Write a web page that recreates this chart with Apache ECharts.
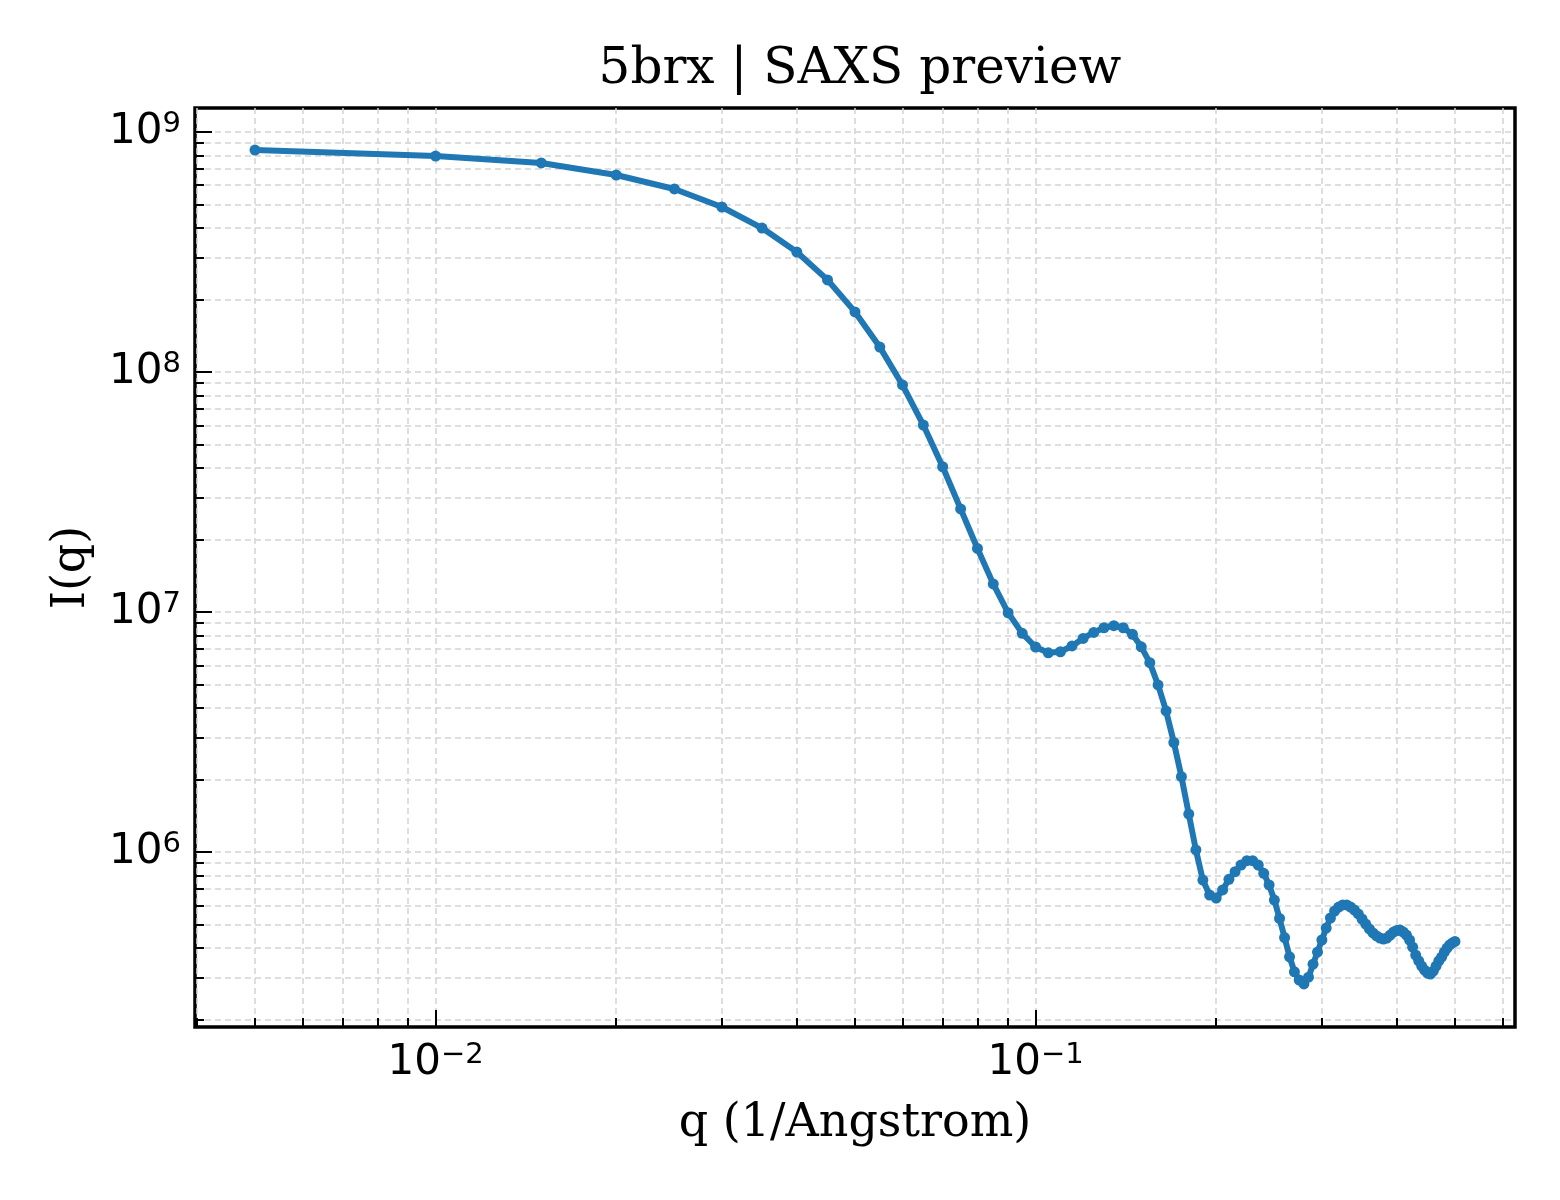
<!doctype html>
<html lang="en">
<head>
    <meta charset="UTF-8">
    <title>5brx | SAXS preview</title>
    <style>
        body { margin: 0; padding: 0; background: #fff; }
        #main { width: 1560px; height: 1200px; }
    </style>
</head>
<body>
    <div id="main"></div>

    <script src="https://cdn.jsdelivr.net/npm/echarts@6.0.0/dist/echarts.min.js"></script>
    <script>
        // scattering vector q (1/Angstrom)
        var qValues = [
            0.005, 0.010, 0.015, 0.020, 0.025, 0.030, 0.035, 0.040, 0.045, 0.050,
            0.055, 0.060, 0.065, 0.070, 0.075, 0.080, 0.085, 0.090, 0.095, 0.100,
            0.105, 0.110, 0.115, 0.120, 0.125, 0.130, 0.135, 0.140, 0.145, 0.150,
            0.155, 0.160, 0.165, 0.170, 0.175, 0.180, 0.185, 0.190, 0.195, 0.200,
            0.205, 0.210, 0.215, 0.220, 0.225, 0.230, 0.235, 0.240, 0.245, 0.250,
            0.255, 0.260, 0.265, 0.270, 0.275, 0.280, 0.285, 0.290, 0.295, 0.300,
            0.305, 0.310, 0.315, 0.320, 0.325, 0.330, 0.335, 0.340, 0.345, 0.350,
            0.355, 0.360, 0.365, 0.370, 0.375, 0.380, 0.385, 0.390, 0.395, 0.400,
            0.405, 0.410, 0.415, 0.420, 0.425, 0.430, 0.435, 0.440, 0.445, 0.450,
            0.455, 0.460, 0.465, 0.470, 0.475, 0.480, 0.485, 0.490, 0.495, 0.500
        ];

        // intensity I(q)
        var intensity = [
            8.41e8, 7.94e8, 7.43e8, 6.62e8, 5.79e8, 4.87e8, 3.98e8, 3.16e8, 2.42e8, 1.78e8,
            1.27e8, 8.83e7, 6.01e7, 4.03e7, 2.69e7, 1.84e7, 1.31e7, 9.93e6, 8.15e6, 7.15e6,
            6.76e6, 6.83e6, 7.22e6, 7.76e6, 8.22e6, 8.60e6, 8.77e6, 8.60e6, 8.08e6, 7.16e6,
            6.15e6, 4.97e6, 3.87e6, 2.86e6, 2.06e6, 1.44e6, 1.02e6, 7.64e5, 6.62e5, 6.43e5,
            6.95e5, 7.70e5, 8.28e5, 8.83e5, 9.20e5, 9.20e5, 8.83e5, 8.15e5, 7.29e5, 6.31e5,
            5.29e5, 4.40e5, 3.66e5, 3.17e5, 2.93e5, 2.82e5, 3.01e5, 3.41e5, 3.83e5, 4.30e5,
            4.82e5, 5.31e5, 5.68e5, 5.90e5, 6.02e5, 6.02e5, 5.90e5, 5.73e5, 5.52e5, 5.26e5,
            5.01e5, 4.78e5, 4.60e5, 4.47e5, 4.38e5, 4.34e5, 4.38e5, 4.51e5, 4.64e5, 4.71e5,
            4.73e5, 4.64e5, 4.51e5, 4.30e5, 4.02e5, 3.72e5, 3.52e5, 3.35e5, 3.22e5, 3.13e5,
            3.10e5, 3.19e5, 3.35e5, 3.52e5, 3.65e5, 3.83e5, 3.98e5, 4.10e5, 4.18e5, 4.24e5
        ];

        // axis ranges (decades) and tick positions, as exponents of 10
        var xRange = [-2.401, -0.201];
        var yRange = [5.271, 9.1];
        var xMajor = [-2, -1];
        var yMajor = [6, 7, 8, 9];
        var xMinorMant = [4, 5, 6, 7, 8, 9, 20, 30, 40, 50, 60, 70, 80, 90, 200, 300, 400, 500, 600];
        var yMinorMant = [2e5, 3e5, 4e5, 5e5, 6e5, 7e5, 8e5, 9e5, 2e6, 3e6, 4e6, 5e6, 6e6, 7e6, 8e6, 9e6,
                          2e7, 3e7, 4e7, 5e7, 6e7, 7e7, 8e7, 9e7, 2e8, 3e8, 4e8, 5e8, 6e8, 7e8, 8e8, 9e8];

        var xMinor = xMinorMant.map(function (v) { return Math.log10(v / 1000); });
        var yMinor = yMinorMant.map(function (v) { return Math.log10(v); });

        var points = qValues.map(function (q, i) { return [q, intensity[i]]; });

        var gridStyle = { color: '#d4d4d4', width: 1.5, type: [6, 4] };
        var tickFont = 'DejaVu Sans';
        var serif = 'DejaVu Serif';

        function powLabel(v) {
            var e = Math.round(v);
            var s = e < 0 ? '\u2212' + (-e) : String(e);
            return '{b|10}{s|' + s + '}';
        }
        var powRich = {
            b: { fontFamily: tickFont, fontSize: 42, lineHeight: 44, color: '#000' },
            s: { fontFamily: tickFont, fontSize: 29, lineHeight: 24, verticalAlign: 'top', color: '#000' }
        };

        function helperX(values, len, labels, name) {
            return {
                type: 'value', gridIndex: 0, position: 'bottom',
                min: xRange[0], max: xRange[1],
                axisLine: { show: false },
                axisTick: { show: true, inside: true, length: len, customValues: values,
                            lineStyle: { color: '#000', width: 2 } },
                axisLabel: { show: labels, customValues: values, margin: 14,
                             formatter: powLabel, rich: powRich },
                splitLine: { show: true, lineStyle: gridStyle },
                name: name, nameLocation: 'middle', nameGap: 74,
                nameTextStyle: { fontFamily: serif, fontSize: 46, color: '#000' }
            };
        }
        function helperY(values, len, labels, name) {
            return {
                type: 'value', gridIndex: 0, position: 'left',
                min: yRange[0], max: yRange[1],
                axisLine: { show: false },
                axisTick: { show: true, inside: true, length: len, customValues: values,
                            lineStyle: { color: '#000', width: 2 } },
                axisLabel: { show: labels, customValues: values, margin: 14,
                             formatter: powLabel, rich: powRich },
                splitLine: { show: true, lineStyle: gridStyle },
                name: name, nameLocation: 'middle', nameGap: 100, nameRotate: 90,
                nameTextStyle: { fontFamily: serif, fontSize: 46, color: '#000' }
            };
        }

        var myChart = echarts.init(document.getElementById('main'));

        var option = {
            animation: false,
            backgroundColor: '#fff',
            title: {
                text: '5brx | SAXS preview',
                left: 855, top: 40, textAlign: 'center',
                textStyle: { fontFamily: serif, fontSize: 50, fontWeight: 'normal', color: '#000' }
            },
            grid: {
                left: 195, right: 45, top: 108, bottom: 173,
                show: true, borderColor: '#000', borderWidth: 3.5,
                backgroundColor: 'transparent'
            },
            xAxis: [
                {
                    type: 'log', logBase: 10,
                    min: Math.pow(10, xRange[0]), max: Math.pow(10, xRange[1]),
                    show: false
                },
                helperX(xMajor, 17, true, 'q (1/Angstrom)'),
                helperX(xMinor, 9, false, '')
            ],
            yAxis: [
                {
                    type: 'log', logBase: 10,
                    min: Math.pow(10, yRange[0]), max: Math.pow(10, yRange[1]),
                    show: false
                },
                helperY(yMajor, 17, true, 'I(q)'),
                helperY(yMinor, 9, false, '')
            ],
            series: [{
                type: 'line',
                xAxisIndex: 0, yAxisIndex: 0,
                data: points,
                symbol: 'circle', symbolSize: 11,
                showSymbol: true,
                lineStyle: { color: '#1f77b4', width: 6 },
                itemStyle: { color: '#1f77b4' },
                z: 5
            }]
        };
        myChart.setOption(option);
    </script>
</body>
</html>
